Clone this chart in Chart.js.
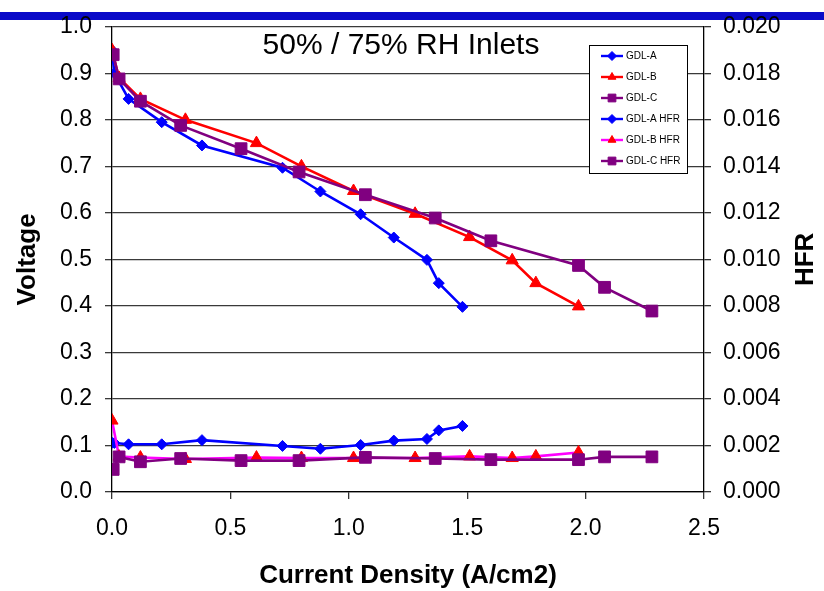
<!DOCTYPE html>
<html>
<head>
<meta charset="utf-8">
<title>Polarization and HFR</title>
<script src="https://cdn.jsdelivr.net/npm/chart.js@4.4.0/dist/chart.umd.min.js"></script>
<style>
html, body { margin: 0; padding: 0; background: #fff; }
#wrap { width: 824px; height: 591px; }
</style>
</head>
<body>
<div id="wrap"><canvas id="myChart"></canvas></div>
<script>
// current density (A/cm2), cell voltage (V) and HFR for each diffusion layer
var gdlA_J = [0, 0.01, 0.07, 0.21, 0.38, 0.72, 0.88, 1.05, 1.19, 1.33, 1.38, 1.48];
var gdlA_V = [0.95, 0.90, 0.845, 0.795, 0.745, 0.697, 0.646, 0.597, 0.547, 0.499, 0.449, 0.398];
var gdlA_HFR = [0.00212, 0.00211, 0.00205, 0.00205, 0.00223, 0.00198, 0.00186, 0.00202, 0.00221, 0.00228, 0.00265, 0.00284];

var gdlB_J = [0, 0.03, 0.12, 0.31, 0.61, 0.80, 1.02, 1.28, 1.51, 1.69, 1.79, 1.97];
var gdlB_V = [0.95, 0.89, 0.845, 0.80, 0.75, 0.70, 0.647, 0.598, 0.548, 0.498, 0.449, 0.399];
var gdlB_HFR = [0.00307, 0.00152, 0.00148, 0.00142, 0.00148, 0.00146, 0.00146, 0.00146, 0.00153, 0.00146, 0.00153, 0.00170];

var gdlC_J = [0.005, 0.03, 0.12, 0.29, 0.545, 0.79, 1.07, 1.365, 1.60, 1.97, 2.08, 2.28];
var gdlC_V = [0.94, 0.888, 0.84, 0.788, 0.738, 0.688, 0.639, 0.589, 0.54, 0.487, 0.44, 0.389];
var gdlC_HFR = [0.00097, 0.00151, 0.00130, 0.00144, 0.00135, 0.00135, 0.00149, 0.00144, 0.00139, 0.00139, 0.00151, 0.00151];

var jTicks = [0, 0.5, 1.0, 1.5, 2.0, 2.5];
var vTicks = [0, 0.1, 0.2, 0.3, 0.4, 0.5, 0.6, 0.7, 0.8, 0.9, 1.0];
var hfrTicks = [0, 0.002, 0.004, 0.006, 0.008, 0.010, 0.012, 0.014, 0.016, 0.018, 0.020];

function pts(J, Y) {
    return J.map(function (x, i) { return { x: x, y: Y[i] }; });
}

function series(label, J, Y, axis, line, mark, style, r, order) {
    return {
        label: label,
        data: pts(J, Y),
        yAxisID: axis,
        borderColor: line,
        backgroundColor: mark,
        pointBackgroundColor: mark,
        pointBorderColor: mark,
        pointBorderWidth: 1,
        pointStyle: style,
        pointRadius: r,
        pointHoverRadius: r,
        borderWidth: 2.6,
        tension: 0,
        fill: false,
        order: order
    };
}

var datasets = [
    series('GDL-A', gdlA_J, gdlA_V, 'y', '#0000ff', '#0000ff', 'rectRot', 5.5, 6),
    series('GDL-B', gdlB_J, gdlB_V, 'y', '#ff0000', '#ff0000', 'triangle', 7, 5),
    series('GDL-C', gdlC_J, gdlC_V, 'y', '#800080', '#800080', 'rect', 8.3, 4),
    series('GDL-A HFR', gdlA_J, gdlA_HFR, 'y1', '#0000ff', '#0000ff', 'rectRot', 5.5, 3),
    series('GDL-B HFR', gdlB_J, gdlB_HFR, 'y1', '#ff00ff', '#ff0000', 'triangle', 7, 2),
    series('GDL-C HFR', gdlC_J, gdlC_HFR, 'y1', '#800080', '#800080', 'rect', 8.3, 1)
];

Chart.defaults.font.family = '"Liberation Sans", Arial, sans-serif';
Chart.defaults.color = '#000';

var FONT = '"Liberation Sans", Arial, sans-serif';

// blue band behind the top of the plot, title, legend box and right axis title
var decor = {
    id: 'decor',
    beforeDraw: function (chart) {
        var ctx = chart.ctx;
        ctx.save();
        ctx.fillStyle = '#fff';
        ctx.fillRect(0, 0, chart.width, chart.height);
        ctx.fillStyle = '#0a0ac8';
        ctx.fillRect(0, 12, chart.width, 8);
        ctx.restore();
    },
    afterDraw: function (chart) {
        var ctx = chart.ctx;
        ctx.save();
        ctx.fillStyle = '#000';
        ctx.textAlign = 'center';
        ctx.textBaseline = 'middle';
        ctx.font = '30px ' + FONT;
        ctx.fillText('50% / 75% RH Inlets', 401, 46);

        // legend
        var bx = 589, by = 45, bw = 98, bh = 128;
        ctx.fillStyle = '#fff';
        ctx.fillRect(bx, by, bw, bh);
        ctx.strokeStyle = '#000';
        ctx.lineWidth = 1;
        ctx.strokeRect(bx + 0.5, by + 0.5, bw, bh);
        chart.data.datasets.forEach(function (ds, i) {
            var y = 56 + i * 21;
            ctx.strokeStyle = ds.borderColor;
            ctx.lineWidth = 2.4;
            ctx.beginPath();
            ctx.moveTo(601, y);
            ctx.lineTo(623, y);
            ctx.stroke();
            ctx.fillStyle = ds.pointBackgroundColor;
            ctx.strokeStyle = ds.pointBackgroundColor;
            ctx.lineWidth = 1;
            Chart.helpers.drawPoint(ctx, {
                pointStyle: ds.pointStyle,
                radius: ds.pointStyle === 'rect' ? 5.5 : 4.5,
                rotation: 0,
                borderWidth: 1
            }, 612, y);
            ctx.fillStyle = '#000';
            ctx.textAlign = 'left';
            ctx.font = '10px ' + FONT;
            ctx.fillText(ds.label, 626, y + 0.5);
        });

        // secondary axis title
        var a = chart.chartArea;
        ctx.translate(806, (a.top + a.bottom) / 2);
        ctx.rotate(-Math.PI / 2);
        ctx.textAlign = 'center';
        ctx.font = 'bold 26px ' + FONT;
        ctx.fillStyle = '#000';
        ctx.fillText('HFR', 0, 0);
        ctx.restore();
    }
};

var ctx = document.getElementById('myChart').getContext('2d');
var myChart = new Chart(ctx, {
    type: 'line',
    data: { datasets: datasets },
    plugins: [decor],
    options: {
        responsive: true,
        maintainAspectRatio: false,
        animation: false,
        layout: { padding: { top: 16, left: 0, right: 0, bottom: 0 } },
        plugins: {
            legend: { display: false },
            tooltip: { enabled: false }
        },
        scales: {
            x: {
                type: 'linear',
                min: 0,
                max: 2.5,
                afterBuildTicks: function (s) { s.ticks = jTicks.map(function (v) { return { value: v }; }); },
                ticks: {
                    callback: function (v) { return v.toFixed(1); },
                    font: { size: 23 },
                    color: '#000',
                    padding: 16,
                    maxRotation: 0
                },
                grid: { drawOnChartArea: false, tickLength: 7, color: '#333', lineWidth: 1.3 },
                border: { color: '#000', width: 1.3 },
                title: {
                    display: true,
                    text: 'Current Density (A/cm2)',
                    font: { size: 26, weight: 'bold' },
                    color: '#000',
                    padding: { top: 0, bottom: 0 }
                },
                afterFit: function (s) { s.height = 99; }
            },
            y: {
                position: 'left',
                min: 0,
                max: 1,
                afterBuildTicks: function (s) { s.ticks = vTicks.map(function (v) { return { value: v }; }); },
                ticks: {
                    callback: function (v) { return v.toFixed(1); },
                    font: { size: 23 },
                    color: '#000',
                    padding: 13
                },
                grid: { color: '#3a3a3a', lineWidth: 1.3, tickLength: 7 },
                border: { color: '#000', width: 1.3 },
                title: {
                    display: true,
                    text: 'Voltage',
                    font: { size: 26, weight: 'bold' },
                    color: '#000',
                    padding: { top: 12, bottom: 0 }
                },
                afterFit: function (s) { s.width = 112; }
            },
            y1: {
                position: 'right',
                min: 0,
                max: 0.02,
                afterBuildTicks: function (s) { s.ticks = hfrTicks.map(function (v) { return { value: v }; }); },
                ticks: {
                    callback: function (v) { return v.toFixed(3); },
                    font: { size: 23 },
                    color: '#000',
                    padding: 12
                },
                grid: { drawOnChartArea: false, tickLength: 7, color: '#333', lineWidth: 1.3 },
                border: { color: '#000', width: 1.3 },
                afterFit: function (s) { s.width = 120; }
            }
        }
    }
});
</script>
</body>
</html>
